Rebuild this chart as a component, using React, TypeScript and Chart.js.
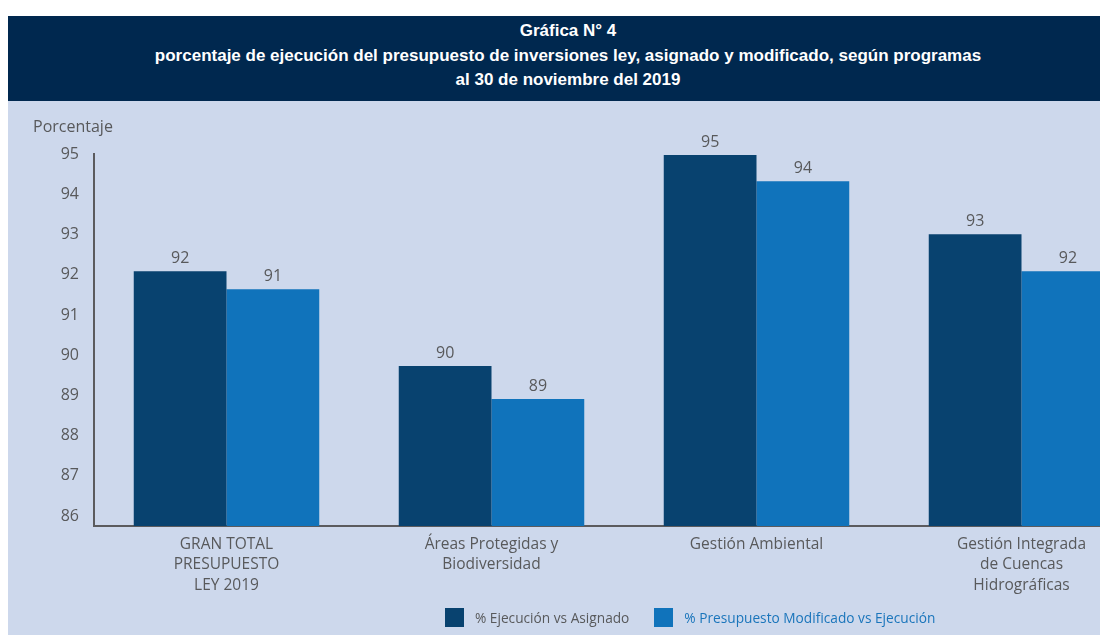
import React, { useEffect, useRef } from "react";
import { Chart, registerables } from "chart.js";

Chart.register(...registerables);

const categories: string[][] = [
  ["GRAN TOTAL", "PRESUPUESTO", "LEY 2019"],
  ["Áreas Protegidas y", "Biodiversidad"],
  ["Gestión Ambiental"],
  ["Gestión Integrada", "de Cuencas", "Hidrográficas"],
];

const seriesNames = ["% Ejecución vs Asignado", "% Presupuesto Modificado vs Ejecución"];

const ejecucionVsAsignado = [92.09, 89.73, 94.98, 93.01];
const presupuestoModificado = [91.64, 88.91, 94.33, 92.09];

const ejecucionLabels = ["92", "90", "95", "93"];
const presupuestoLabels = ["91", "89", "94", "92"];

const yTicks = [86, 87, 88, 89, 90, 91, 92, 93, 94, 95];
const yMin = 85.75;
const yMax = 95;

const DARK = "#08426f";
const BLUE = "#1073bb";
const GRAY = "#58595b";
const PANEL = "#cdd8ec";
const NAVY = "#00284f";
const FONT = "'Open Sans', 'Noto Sans', sans-serif";

const valueLabelPlugin = {
  id: "valueLabels",
  afterDatasetsDraw(chart: any) {
    const ctx = chart.ctx;
    const allLabels = [ejecucionLabels, presupuestoLabels];
    ctx.save();
    ctx.font = `16px ${FONT}`;
    ctx.fillStyle = GRAY;
    ctx.textAlign = "center";
    ctx.textBaseline = "middle";
    chart.data.datasets.forEach((_ds: any, di: number) => {
      const meta = chart.getDatasetMeta(di);
      meta.data.forEach((el: any, i: number) => {
        ctx.fillText(allLabels[di][i], el.x, el.y - 13);
      });
    });
    ctx.restore();
  },
};

export default function App() {
  const ref = useRef<HTMLCanvasElement | null>(null);

  useEffect(() => {
    document.body.style.overflow = "hidden";
    document.documentElement.style.overflow = "hidden";
    const canvas = ref.current;
    if (!canvas) return;
    const chart = new Chart(canvas, {
      type: "bar",
      data: {
        labels: categories,
        datasets: [
          {
            label: seriesNames[0],
            data: ejecucionVsAsignado,
            backgroundColor: DARK,
            borderWidth: 0,
            categoryPercentage: 0.7,
            barPercentage: 1,
          },
          {
            label: seriesNames[1],
            data: presupuestoModificado,
            backgroundColor: BLUE,
            borderWidth: 0,
            categoryPercentage: 0.7,
            barPercentage: 1,
          },
        ],
      },
      options: {
        responsive: false,
        animation: false,
        devicePixelRatio: 1,
        layout: { padding: { left: 25, right: 14, top: 0, bottom: 0 } },
        plugins: {
          legend: { display: false },
          tooltip: { enabled: false },
          title: {
            display: true,
            text: "Porcentaje",
            align: "start",
            color: GRAY,
            font: { family: FONT, size: 16, weight: "normal", lineHeight: 1.2 },
            padding: { top: 17, bottom: 17 },
          },
        },
        scales: {
          x: {
            grid: { display: false, drawTicks: false },
            border: { display: true, color: "#5b5b5e", width: 2 },
            ticks: {
              color: GRAY,
              font: { family: FONT, size: 15.5, lineHeight: 1.33 },
              padding: 8,
              maxRotation: 0,
              autoSkip: false,
            },
            afterFit: (scale: any) => {
              scale.height = 109;
            },
          },
          y: {
            min: yMin,
            max: yMax,
            grid: { display: false, drawTicks: false },
            border: { display: true, color: "#5b5b5e", width: 2 },
            ticks: {
              color: GRAY,
              font: { family: FONT, size: 16 },
              padding: 15,
              callback: (v: any) => String(v),
            },
            afterBuildTicks: (scale: any) => {
              scale.ticks = yTicks.map((v) => ({ value: v }));
            },
            afterFit: (scale: any) => {
              scale.width = 61;
            },
          },
        },
      },
      plugins: [valueLabelPlugin],
    });
    return () => chart.destroy();
  }, []);

  const legendItem = (color: string, text: string, textColor: string, ml: number) => (
    <div style={{ display: "flex", alignItems: "center", marginLeft: ml }}>
      <div style={{ width: 19, height: 19, background: color, marginRight: 11 }} />
      <span style={{ color: textColor, fontFamily: FONT, fontSize: 13.7, lineHeight: "19px", whiteSpace: "nowrap" }}>
        {text}
      </span>
    </div>
  );

  return (
    <div style={{ paddingTop: 8 }}>
      <div style={{ width: 1100, background: PANEL, overflow: "hidden" }}>
        <div
          style={{
            height: 85,
            boxSizing: "border-box",
            background: NAVY,
            color: "#ffffff",
            fontFamily: "'Liberation Sans', Arial, sans-serif",
            fontWeight: "bold",
            fontSize: 17,
            lineHeight: "24.5px",
            textAlign: "center",
            paddingTop: 3,
            paddingLeft: 20,
            whiteSpace: "nowrap",
          }}
        >
          <div>Gráfica N° 4</div>
          <div>porcentaje de ejecución del presupuesto de inversiones ley, asignado y modificado, según programas</div>
          <div>al 30 de noviembre del 2019</div>
        </div>
        <div style={{ position: "relative", height: 534, overflow: "hidden" }}>
          <canvas ref={ref} width={1160} height={534} style={{ display: "block", width: 1160, height: 534 }} />
          <div style={{ position: "absolute", left: 437, top: 507, display: "flex" }}>
            {legendItem(DARK, seriesNames[0], GRAY, 0)}
            {legendItem(BLUE, seriesNames[1], "#1a75bb", 25)}
          </div>
        </div>
      </div>
    </div>
  );
}
